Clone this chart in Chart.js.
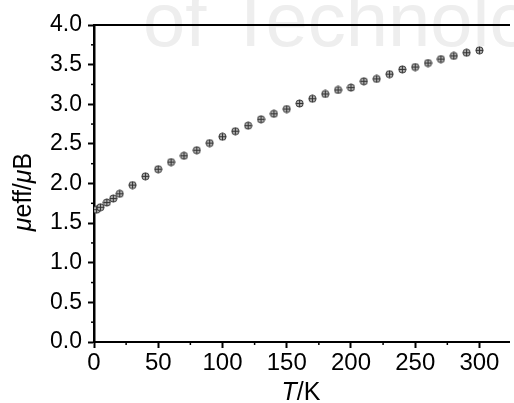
<!DOCTYPE html>
<html>
<head>
<meta charset="utf-8">
<script src="https://cdn.jsdelivr.net/npm/chart.js@4"></script>
<style>
    body { margin: 0; background: #fff; }
    #wrap { width: 514px; height: 403px; position: relative; }
</style>
</head>
<body>
<div id="wrap"><canvas id="myChart"></canvas></div>
<script>
// temperatures (K) and effective moment values
const temps = [2, 5, 10, 15, 20, 30, 40, 50, 60, 70, 80, 90, 100, 110, 120, 130, 140, 150,
    160, 170, 180, 190, 200, 210, 220, 230, 240, 250, 260, 270, 280, 290, 300];
const muEff = [1.67, 1.70, 1.76, 1.81, 1.87, 1.98, 2.09, 2.18, 2.27, 2.35, 2.42, 2.51, 2.59, 2.66, 2.73,
    2.81, 2.88, 2.94, 3.01, 3.07, 3.13, 3.18, 3.21, 3.29, 3.32, 3.38, 3.44, 3.47, 3.52, 3.57, 3.61, 3.65, 3.68];
const xTicks = [0, 50, 100, 150, 200, 250, 300];
const yTicks = [0, 0.5, 1.0, 1.5, 2.0, 2.5, 3.0, 3.5, 4.0];

document.addEventListener("DOMContentLoaded", function () {

    const FONT = "'Liberation Sans', Arial, sans-serif";

    // circle with a cross inside, like the Origin marker
    function makeMarker() {
        const c = document.createElement('canvas');
        c.width = 9;
        c.height = 9;
        const g = c.getContext('2d');
        g.beginPath();
        g.arc(4.5, 4.5, 3.6, 0, Math.PI * 2);
        g.fillStyle = '#b0b0b0';
        g.fill();
        g.lineWidth = 1;
        g.strokeStyle = '#333';
        g.stroke();
        g.beginPath();
        g.moveTo(1, 4.5); g.lineTo(8, 4.5);
        g.moveTo(4.5, 1); g.lineTo(4.5, 8);
        g.stroke();
        return c;
    }

    const points = temps.map((t, i) => ({ x: t, y: muEff[i] }));

    const extras = {
        id: 'extras',
        beforeDraw(chart) {
            // faint watermark from the source scan
            const ctx = chart.ctx;
            ctx.save();
            ctx.fillStyle = '#eeeeee';
            ctx.font = '76px ' + FONT;
            ctx.textBaseline = 'alphabetic';
            ctx.fillText('of Technology', 143, 46);
            ctx.restore();
        },
        afterDraw(chart) {
            const ctx = chart.ctx;
            const xs = chart.scales.x;
            const ys = chart.scales.y;
            const area = chart.chartArea;
            ctx.save();
            ctx.strokeStyle = '#000';
            ctx.lineWidth = 1.5;
            // minor ticks
            for (let v = 25; v <= xs.max; v += 50) {
                const px = xs.getPixelForValue(v);
                ctx.beginPath();
                ctx.moveTo(px, area.bottom);
                ctx.lineTo(px, area.bottom + 3);
                ctx.stroke();
            }
            for (let v = 0.25; v < 4; v += 0.5) {
                const py = ys.getPixelForValue(v);
                ctx.beginPath();
                ctx.moveTo(area.left - 3, py);
                ctx.lineTo(area.left, py);
                ctx.stroke();
            }

            ctx.fillStyle = '#000';
            ctx.textBaseline = 'alphabetic';
            // x title: T/K
            const size = 25;
            const it = 'italic ' + size + 'px ' + FONT;
            const up = size + 'px ' + FONT;
            ctx.font = it;
            const wT = ctx.measureText('T').width;
            ctx.font = up;
            const wK = ctx.measureText('/K').width;
            let x0 = 301 - (wT + wK) / 2;
            ctx.font = it;
            ctx.fillText('T', x0, 400);
            ctx.font = up;
            ctx.fillText('/K', x0 + wT, 400);

            // y title: μeff/μB
            const parts = [['μ', it], ['eff/', up], ['μ', it], ['B', up]];
            let total = 0;
            parts.forEach(p => { ctx.font = p[1]; total += ctx.measureText(p[0]).width; });
            ctx.translate(31, 192);
            ctx.rotate(-Math.PI / 2);
            let cx = -total / 2;
            parts.forEach(p => {
                ctx.font = p[1];
                ctx.fillText(p[0], cx, 0);
                cx += ctx.measureText(p[0]).width;
            });
            ctx.restore();
        }
    };

    const ctx = document.getElementById('myChart').getContext('2d');
    const myChart = new Chart(ctx, {
        type: 'scatter',
        data: {
            datasets: [{
                data: points,
                pointStyle: makeMarker(),
                showLine: false
            }]
        },
        options: {
            responsive: true,
            maintainAspectRatio: false,
            animation: false,
            layout: { padding: { top: 25, left: 0, right: 0, bottom: 0 } },
            plugins: {
                legend: { display: false },
                tooltip: { enabled: false }
            },
            scales: {
                x: {
                    type: 'linear',
                    min: 0,
                    max: 323,
                    afterBuildTicks: (s) => { s.ticks = xTicks.map(v => ({ value: v })); },
                    afterFit: (s) => { s.height = 61; },
                    grid: { drawOnChartArea: false, tickLength: 6, tickWidth: 2, tickColor: '#000' },
                    border: { display: true, color: '#000', width: 2 },
                    ticks: { color: '#000', font: { family: FONT, size: 24 }, padding: 1, maxRotation: 0 }
                },
                x2: {
                    type: 'linear',
                    position: 'top',
                    min: 0,
                    max: 323,
                    afterFit: (s) => { s.height = 0; },
                    grid: { display: false, drawTicks: false },
                    border: { display: true, color: '#000', width: 2 },
                    ticks: { display: false }
                },
                y: {
                    min: 0,
                    max: 4,
                    afterBuildTicks: (s) => { s.ticks = yTicks.map(v => ({ value: v })); },
                    afterFit: (s) => { s.width = 94; },
                    grid: { drawOnChartArea: false, tickLength: 6, tickWidth: 2, tickColor: '#000' },
                    border: { display: true, color: '#000', width: 2.5 },
                    ticks: {
                        color: '#000',
                        font: { family: FONT, size: 23 },
                        padding: 6,
                        callback: (v) => v.toFixed(1)
                    }
                }
            }
        },
        plugins: [extras]
    });

});
</script>
</body>
</html>
